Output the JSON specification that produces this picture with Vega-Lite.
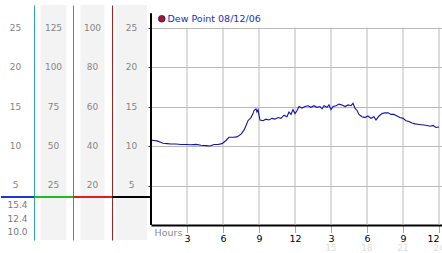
{
  "$schema": "https://vega.github.io/schema/vega-lite/v6.json",
  "background": "white",
  "padding": {"left": 0, "top": 5, "right": 0, "bottom": 0},
  "spacing": 0,
  "bounds": "flush",
  "config": {"view": {"stroke": null}, "font": "DejaVu Sans"},
  "resolve": {"scale": {"color": "independent"}, "legend": {"color": "independent"}},
  "hconcat": [
    {
      "width": 33, "height": 235,
      "layer": [
        {
          "data": {"values": [{"v": 25, "t": "25"}, {"v": 20, "t": "20"}, {"v": 15, "t": "15"}, {"v": 10, "t": "10"}, {"v": 5, "t": "5"}]},
          "mark": {"type": "text", "font": "DejaVu Sans", "fontSize": 9, "color": "#858585", "dx": -2},
          "encoding": {
            "y": {"field": "v", "type": "quantitative", "scale": {"domain": [-1.9, 27.85], "nice": false, "zero": false},
                  "axis": {"orient": "right", "labels": false, "ticks": false, "grid": false, "title": null, "domainColor": "#2ea0d0", "domainWidth": 1}},
            "text": {"field": "t"}
          }
        },
        {
          "data": {"values": [{"v": 2.53, "t": "15.4"}, {"v": 0.8, "t": "12.4"}, {"v": -0.89, "t": "10.0"}]},
          "mark": {"type": "text", "font": "DejaVu Sans", "fontSize": 9, "color": "#7a7a7a"},
          "encoding": {
            "y": {"field": "v", "type": "quantitative", "scale": {"domain": [-1.9, 27.85], "nice": false, "zero": false}},
            "text": {"field": "t"}
          }
        },
        {
          "data": {"values": [{"level": 3.54}]},
          "mark": {"type": "rule", "color": "#1a3ad8", "strokeWidth": 2},
          "encoding": {"y": {"field": "level", "type": "quantitative", "scale": {"domain": [-1.9, 27.85], "nice": false, "zero": false}}}
        }
      ]
    },
    {
      "width": 39, "height": 235,
      "layer": [
        {
          "data": {"values": [{"c": "a"}]},
          "mark": {"type": "rect", "color": "#f3f3f3"},
          "encoding": {"x": {"field": "c", "type": "nominal", "scale": {"paddingOuter": 0.25, "paddingInner": 0}, "axis": null}}
        },
        {
          "data": {"values": [{"c": "a", "v": 25, "t": "125"}, {"c": "a", "v": 20, "t": "100"}, {"c": "a", "v": 15, "t": "75"}, {"c": "a", "v": 10, "t": "50"}, {"c": "a", "v": 5, "t": "25"}]},
          "mark": {"type": "text", "font": "DejaVu Sans", "fontSize": 9, "color": "#858585"},
          "encoding": {
            "x": {"field": "c", "type": "nominal", "axis": null},
            "y": {"field": "v", "type": "quantitative", "scale": {"domain": [-1.9, 27.85], "nice": false, "zero": false},
                  "axis": {"orient": "right", "labels": false, "ticks": false, "grid": false, "title": null, "domainColor": "#3aa53a", "domainWidth": 1}},
            "text": {"field": "t"}
          }
        },
        {
          "data": {"values": [{"level": 3.54}]},
          "mark": {"type": "rule", "color": "#22bb22", "strokeWidth": 2},
          "encoding": {"y": {"field": "level", "type": "quantitative", "scale": {"domain": [-1.9, 27.85], "nice": false, "zero": false}}}
        }
      ]
    },
    {
      "width": 39, "height": 235,
      "layer": [
        {
          "data": {"values": [{"c": "a"}]},
          "mark": {"type": "rect", "color": "#f3f3f3"},
          "encoding": {"x": {"field": "c", "type": "nominal", "scale": {"paddingOuter": 0.31, "paddingInner": 0}, "axis": null}}
        },
        {
          "data": {"values": [{"c": "a", "v": 25, "t": "100"}, {"c": "a", "v": 20, "t": "80"}, {"c": "a", "v": 15, "t": "60"}, {"c": "a", "v": 10, "t": "40"}, {"c": "a", "v": 5, "t": "20"}]},
          "mark": {"type": "text", "font": "DejaVu Sans", "fontSize": 9, "color": "#858585"},
          "encoding": {
            "x": {"field": "c", "type": "nominal", "axis": null},
            "y": {"field": "v", "type": "quantitative", "scale": {"domain": [-1.9, 27.85], "nice": false, "zero": false},
                  "axis": {"orient": "right", "labels": false, "ticks": false, "grid": false, "title": null, "domainColor": "#a82222", "domainWidth": 1}},
            "text": {"field": "t"}
          }
        },
        {
          "data": {"values": [{"level": 3.54}]},
          "mark": {"type": "rule", "color": "#e02020", "strokeWidth": 2},
          "encoding": {"y": {"field": "level", "type": "quantitative", "scale": {"domain": [-1.9, 27.85], "nice": false, "zero": false}}}
        }
      ]
    },
    {
      "width": 39, "height": 235,
      "layer": [
        {
          "data": {"values": [{"c": "a"}]},
          "mark": {"type": "rect", "color": "#f3f3f3"},
          "encoding": {"x": {"field": "c", "type": "nominal", "scale": {"paddingOuter": 0.13, "paddingInner": 0}, "axis": null}}
        },
        {
          "data": {"values": [{"c": "a", "v": 25, "t": "25"}, {"c": "a", "v": 20, "t": "20"}, {"c": "a", "v": 15, "t": "15"}, {"c": "a", "v": 10, "t": "10"}, {"c": "a", "v": 5, "t": "5"}]},
          "mark": {"type": "text", "font": "DejaVu Sans", "fontSize": 9, "color": "#858585"},
          "encoding": {
            "x": {"field": "c", "type": "nominal", "axis": null},
            "y": {"field": "v", "type": "quantitative", "scale": {"domain": [-1.9, 27.85], "nice": false, "zero": false}, "axis": null},
            "text": {"field": "t"}
          }
        },
        {
          "data": {"values": [{"level": 3.54}]},
          "mark": {"type": "rule", "color": "#000000", "strokeWidth": 2},
          "encoding": {"y": {"field": "level", "type": "quantitative", "scale": {"domain": [-1.9, 27.85], "nice": false, "zero": false}}}
        }
      ]
    },
    {
      "width": 291, "height": 220,
      "layer": [
        {
          "data": {"values": [{"h": 3}, {"h": 6}, {"h": 9}, {"h": 12}, {"h": 15}, {"h": 18}, {"h": 21}, {"h": 24}]},
          "mark": {"type": "rule", "color": "#b8b8b8", "strokeWidth": 1},
          "encoding": {
            "x": {"field": "h", "type": "quantitative", "scale": {"domain": [0, 24.25], "nice": false, "zero": false},
                  "axis": {"values": [3, 6, 9, 12, 15, 18, 21, 24], "labelExpr": "datum.value % 12 == 0 ? '12' : '' + (datum.value % 12)",
                           "grid": false, "domainColor": "#000000", "domainWidth": 2, "tickColor": "#555555", "tickSize": 7, "tickDash": [1, 1],
                           "labelColor": "#000000", "labelFont": "DejaVu Sans", "labelFontSize": 9.5, "labelPadding": 1, "labelFlush": 5,
                           "title": "Hours", "titleFont": "DejaVu Sans", "titleFontSize": 9.5, "titleFontWeight": "normal", "titleColor": "#8a8a8a",
                           "titleAnchor": "start", "titleAlign": "left", "titleBaseline": "middle", "titleX": 3, "titleY": 7}},
            "y": {"datum": 0, "type": "quantitative", "scale": {"domain": [0, 27.85], "nice": false, "zero": false},
                  "axis": {"values": [5, 10, 15, 20, 25], "labels": false, "domain": false, "ticks": true, "tickSize": 3, "tickColor": "#333333",
                           "grid": true, "gridColor": "#b8b8b8", "gridWidth": 1, "title": null}},
            "y2": {"datum": 25}
          }
        },
        {
          "data": {"values": [
            {"hour": 0.00, "dew": 10.75}, {"hour": 0.25, "dew": 10.7}, {"hour": 0.50, "dew": 10.65}, {"hour": 0.75, "dew": 10.5},
            {"hour": 1.00, "dew": 10.35}, {"hour": 1.33, "dew": 10.3}, {"hour": 1.67, "dew": 10.25}, {"hour": 2.08, "dew": 10.25},
            {"hour": 2.50, "dew": 10.2}, {"hour": 2.92, "dew": 10.2}, {"hour": 3.33, "dew": 10.15}, {"hour": 3.75, "dew": 10.2},
            {"hour": 4.17, "dew": 10.1}, {"hour": 4.58, "dew": 10.05}, {"hour": 4.92, "dew": 10.0}, {"hour": 5.25, "dew": 10.2},
            {"hour": 5.58, "dew": 10.2}, {"hour": 5.92, "dew": 10.3}, {"hour": 6.25, "dew": 10.7}, {"hour": 6.50, "dew": 11.1},
            {"hour": 6.83, "dew": 11.1}, {"hour": 7.17, "dew": 11.15}, {"hour": 7.50, "dew": 11.5}, {"hour": 7.75, "dew": 12.0},
            {"hour": 7.92, "dew": 12.6}, {"hour": 8.08, "dew": 13.2}, {"hour": 8.33, "dew": 13.6}, {"hour": 8.50, "dew": 14.1},
            {"hour": 8.58, "dew": 14.5}, {"hour": 8.75, "dew": 14.7}, {"hour": 8.83, "dew": 14.3}, {"hour": 8.92, "dew": 14.6},
            {"hour": 9.00, "dew": 13.9}, {"hour": 9.08, "dew": 13.3}, {"hour": 9.33, "dew": 13.2}, {"hour": 9.58, "dew": 13.4},
            {"hour": 9.83, "dew": 13.3}, {"hour": 10.08, "dew": 13.5}, {"hour": 10.33, "dew": 13.4}, {"hour": 10.58, "dew": 13.6},
            {"hour": 10.83, "dew": 13.5}, {"hour": 11.08, "dew": 13.9}, {"hour": 11.33, "dew": 13.7}, {"hour": 11.50, "dew": 14.3},
            {"hour": 11.67, "dew": 14.0}, {"hour": 11.83, "dew": 14.6}, {"hour": 12.00, "dew": 14.1}, {"hour": 12.17, "dew": 14.5},
            {"hour": 12.33, "dew": 15.0}, {"hour": 12.58, "dew": 14.8}, {"hour": 12.83, "dew": 15.0}, {"hour": 13.08, "dew": 15.1},
            {"hour": 13.33, "dew": 14.9}, {"hour": 13.58, "dew": 15.1}, {"hour": 13.83, "dew": 14.9}, {"hour": 14.08, "dew": 15.0},
            {"hour": 14.25, "dew": 14.7}, {"hour": 14.42, "dew": 15.1}, {"hour": 14.67, "dew": 14.9}, {"hour": 14.83, "dew": 15.2},
            {"hour": 15.00, "dew": 14.6}, {"hour": 15.17, "dew": 15.0}, {"hour": 15.42, "dew": 15.1}, {"hour": 15.67, "dew": 15.3},
            {"hour": 15.92, "dew": 15.2}, {"hour": 16.17, "dew": 15.0}, {"hour": 16.42, "dew": 15.2}, {"hour": 16.67, "dew": 15.1},
            {"hour": 16.83, "dew": 15.4}, {"hour": 17.00, "dew": 14.8}, {"hour": 17.17, "dew": 14.5}, {"hour": 17.33, "dew": 14.0},
            {"hour": 17.58, "dew": 13.7}, {"hour": 17.83, "dew": 13.6}, {"hour": 18.08, "dew": 13.8}, {"hour": 18.33, "dew": 13.5},
            {"hour": 18.58, "dew": 13.7}, {"hour": 18.75, "dew": 13.3}, {"hour": 19.00, "dew": 13.8}, {"hour": 19.25, "dew": 14.1},
            {"hour": 19.50, "dew": 14.2}, {"hour": 19.75, "dew": 14.2}, {"hour": 20.00, "dew": 14.0}, {"hour": 20.25, "dew": 14.0},
            {"hour": 20.50, "dew": 13.8}, {"hour": 20.75, "dew": 13.6}, {"hour": 21.00, "dew": 13.5}, {"hour": 21.25, "dew": 13.2},
            {"hour": 21.50, "dew": 13.1}, {"hour": 21.75, "dew": 12.9}, {"hour": 22.00, "dew": 12.8}, {"hour": 22.25, "dew": 12.75},
            {"hour": 22.50, "dew": 12.7}, {"hour": 22.75, "dew": 12.65}, {"hour": 23.00, "dew": 12.6}, {"hour": 23.25, "dew": 12.5},
            {"hour": 23.50, "dew": 12.6}, {"hour": 23.75, "dew": 12.35}, {"hour": 24.00, "dew": 12.4}
          ]},
          "mark": {"type": "line", "strokeWidth": 1.1},
          "encoding": {
            "x": {"field": "hour", "type": "quantitative"},
            "y": {"field": "dew", "type": "quantitative"},
            "color": {"datum": "Dew Point 08/12/06", "type": "nominal", "scale": {"range": ["#1414a8"]},
                      "legend": {"title": null, "orient": "none", "legendX": 6, "legendY": 9, "padding": 0,
                                 "symbolType": "circle", "symbolSize": 45, "labelFont": "DejaVu Sans", "labelFontSize": 9.5,
                                 "labelColor": "#2030c0", "labelOffset": 1,
                                 "encode": {"symbols": {"update": {"fill": {"value": "#b01818"}, "stroke": {"value": "#400000"}, "strokeWidth": {"value": 0.8}, "opacity": {"value": 1}}}}}}
          }
        },
        {
          "data": {"values": [{"axis": "y"}]},
          "mark": {"type": "rule", "color": "#000000", "strokeWidth": 2},
          "encoding": {"x": {"datum": 0, "type": "quantitative"}, "y": {"datum": 0, "type": "quantitative"}, "y2": {"datum": 26.8}}
        },
        {
          "data": {"values": [{"h": 15, "t": "15"}, {"h": 18, "t": "18"}, {"h": 21, "t": "21"}, {"h": 24, "t": "24"}]},
          "mark": {"type": "text", "font": "DejaVu Sans", "fontSize": 8.5, "color": "#dcdcdc"},
          "encoding": {"x": {"field": "h", "type": "quantitative"}, "y": {"datum": -2.95, "type": "quantitative"}, "text": {"field": "t"}}
        }
      ]
    }
  ]
}
